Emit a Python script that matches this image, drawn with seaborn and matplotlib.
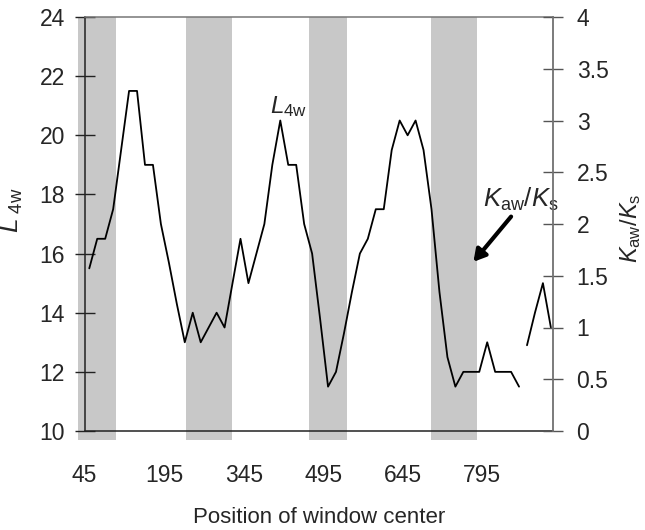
import numpy as np
import pandas as pd
import matplotlib
matplotlib.use("Agg")
import matplotlib.pyplot as plt
import seaborn as sns

# ---- data ----
positions = list(range(54, 925, 15))           # window centres
L4w = [15.5, 16.5, 16.5, 17.5, 19.5, 21.5, 21.5, 19, 19, 17,
       15.7, 14.3, 13, 14, 13, 13.5, 14, 13.5, 15, 16.5,
       15, 16, 17, 19, 20.5, 19, 19, 17, 16, 13.8,
       11.5, 12, 13.3, 14.7, 16, 16.5, 17.5, 17.5, 19.5, 20.5,
       20, 20.5, 19.5, 17.5, 14.7, 12.5, 11.5, 12, 12, 12,
       13, 12, 12, 12, 11.5, 12.9, 14, 15, 13.5]
segment = [0] * 55 + [1] * 4                    # break in the trace
bands = [(33, 105), (236, 323), (468, 540), (699, 785)]
xticks = list(range(45, 871, 75))
xticklabels = ["45", "", "195", "", "345", "", "495", "", "645", "", "795", ""]
left_ticks = [10, 12, 14, 16, 18, 20, 22, 24]
right_ticks = [0, 0.5, 1, 1.5, 2, 2.5, 3, 3.5, 4]
right_ticklabels = ["0", "0.5", "1", "1.5", "2", "2.5", "3", "3.5", "4"]

df = pd.DataFrame({"pos": positions, "L4w": L4w, "seg": segment})

sns.set_style("white")
plt.rcParams["font.family"] = ["Liberation Sans", "DejaVu Sans"]
plt.rcParams["mathtext.fontset"] = "custom"
plt.rcParams["mathtext.rm"] = "Liberation Sans"
plt.rcParams["mathtext.it"] = "Liberation Sans:italic"

fig = plt.figure(figsize=(6.45, 5.3), dpi=100)
ax = fig.add_axes([84.5 / 645, 99 / 530, 468.5 / 645, 414 / 530])

for a, b in bands:
    ax.axvspan(a, b, ymin=-0.022, ymax=1, color="#c8c8c8", lw=0,
               clip_on=False, zorder=0)

sns.lineplot(data=df, x="pos", y="L4w", units="seg", estimator=None,
             color="black", lw=1.3, ax=ax, zorder=3)

ax.set_xlim(45, 928)
ax.set_ylim(10, 24)
ax.set_xticks(xticks)
ax.set_xticklabels(xticklabels)
ax.set_yticks(left_ticks)
ax.set_yticklabels([str(t) for t in left_ticks])
ax.tick_params(axis="x", direction="inout", length=14, width=1, pad=17,
               labelsize=16.5, color="#222222")
ax.tick_params(axis="y", direction="inout", length=14, width=1, pad=7,
               labelsize=16.5, color="#222222")
for s in ["left", "bottom"]:
    ax.spines[s].set_color("#222222")
    ax.spines[s].set_linewidth(1.1)
for s in ["top", "right"]:
    ax.spines[s].set_color("#777777")
    ax.spines[s].set_linewidth(1.1)

ax.set_xlabel("Position of window center", fontsize=16, labelpad=14)
ax.set_ylabel(r"$L_{\ \mathrm{4w}}$", fontsize=19)
ax.yaxis.set_label_coords(-0.127, 0.534)

ax2 = ax.twinx()
ax2.set_ylim(0, 4)
ax2.set_yticks(right_ticks)
ax2.set_yticklabels(right_ticklabels)
ax2.tick_params(axis="y", direction="inout", length=14, width=1, pad=10,
                labelsize=16.5, color="#555555")
for s in ["left", "bottom", "top"]:
    ax2.spines[s].set_visible(False)
ax2.spines["right"].set_color("#777777")
ax2.spines["right"].set_linewidth(1.1)
ax2.set_ylabel(r"$K_{\mathrm{aw}}/K_{\mathrm{s}}$", fontsize=17)
ax2.yaxis.set_label_coords(1.139, 0.49)

ax.text(394, 20.76, r"$L_{\mathrm{4w}}$", fontsize=17.5, ha="left",
        va="baseline", zorder=5)
ax.text(797, 17.57, r"$K_{\mathrm{aw}}/K_{\mathrm{s}}$", fontsize=18.5,
        ha="left", va="baseline", zorder=5, clip_on=False)
ax.annotate("", xy=(778, 15.72), xytext=(849, 17.25),
            arrowprops=dict(arrowstyle="-|>,head_length=0.7,head_width=0.4",
                            lw=3, color="black", shrinkA=0, shrinkB=0),
            zorder=5)

fig.savefig("out.png", dpi=100)
